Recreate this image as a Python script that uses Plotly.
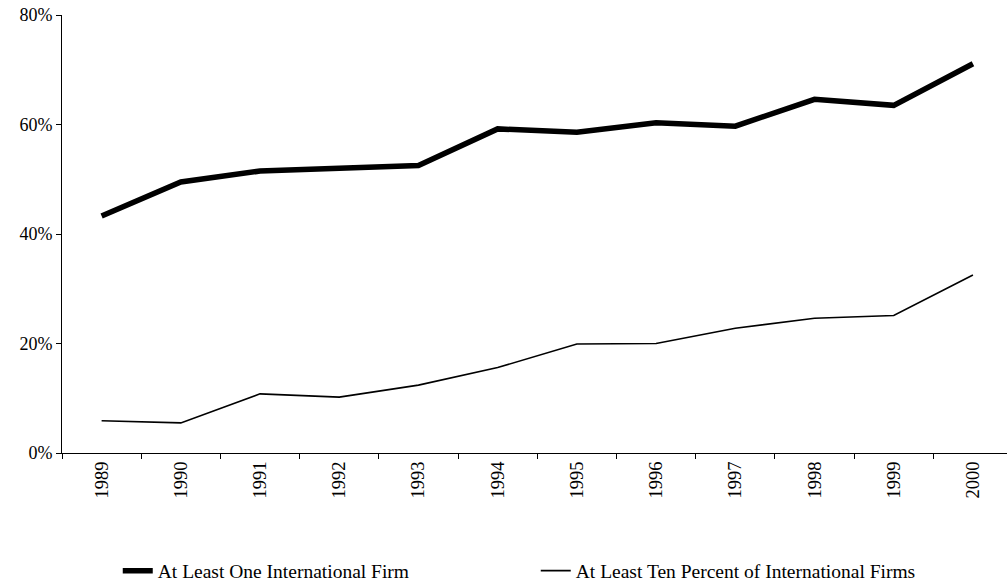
import plotly.graph_objects as go

years = ["1989", "1990", "1991", "1992", "1993", "1994", "1995", "1996", "1997", "1998", "1999", "2000"]
at_least_one = [43.3, 49.5, 51.5, 51.9, 52.5, 59.2, 58.6, 60.3, 59.7, 64.6, 63.5, 71.1]
at_least_ten_pct = [5.9, 5.5, 10.8, 10.2, 12.4, 15.6, 19.9, 20.0, 22.8, 24.6, 25.1, 32.5]

FONT = "Liberation Serif, Times New Roman, serif"

fig = go.Figure()
fig.add_trace(go.Scatter(x=years, y=at_least_one, mode="lines",
                         name="At Least One International Firm",
                         line=dict(color="black", width=5.5)))
fig.add_trace(go.Scatter(x=years, y=at_least_ten_pct, mode="lines",
                         name="At Least Ten Percent of International Firms",
                         line=dict(color="black", width=1.6)))

fig.update_layout(
    width=1007, height=586,
    margin=dict(l=62, r=0, t=15, b=133, autoexpand=False),
    paper_bgcolor="white", plot_bgcolor="white",
    font=dict(family=FONT, size=18, color="black"),
    showlegend=True,
    legend=dict(orientation="h", x=0.059, xanchor="left", y=-0.2694, yanchor="middle",
                font=dict(family=FONT, size=19.5, color="black"),
                entrywidth=373, entrywidthmode="pixels",
                bgcolor="rgba(0,0,0,0)", tracegroupgap=0),
    xaxis=dict(type="category", range=[-0.5, 11.43], showline=True, linecolor="black", linewidth=1,
               ticks="outside", tickson="boundaries", ticklen=5, tickcolor="black",
               tickangle=-90, showgrid=False, zeroline=False, automargin=False,
               ticklabeloverflow="allow",
               tickfont=dict(family=FONT, size=18.5, color="black")),
    yaxis=dict(range=[0, 80], dtick=20, ticksuffix="%", showline=True, linecolor="black", linewidth=1,
               ticks="outside", ticklen=5, tickcolor="black", showgrid=False, zeroline=False,
               automargin=False, ticklabeloverflow="allow",
               tickfont=dict(family=FONT, size=18, color="black")),
)

fig.write_html("out.html",
               config={"displayModeBar": False},
               post_script="document.body.style.margin='0';document.body.style.overflow='hidden';")
